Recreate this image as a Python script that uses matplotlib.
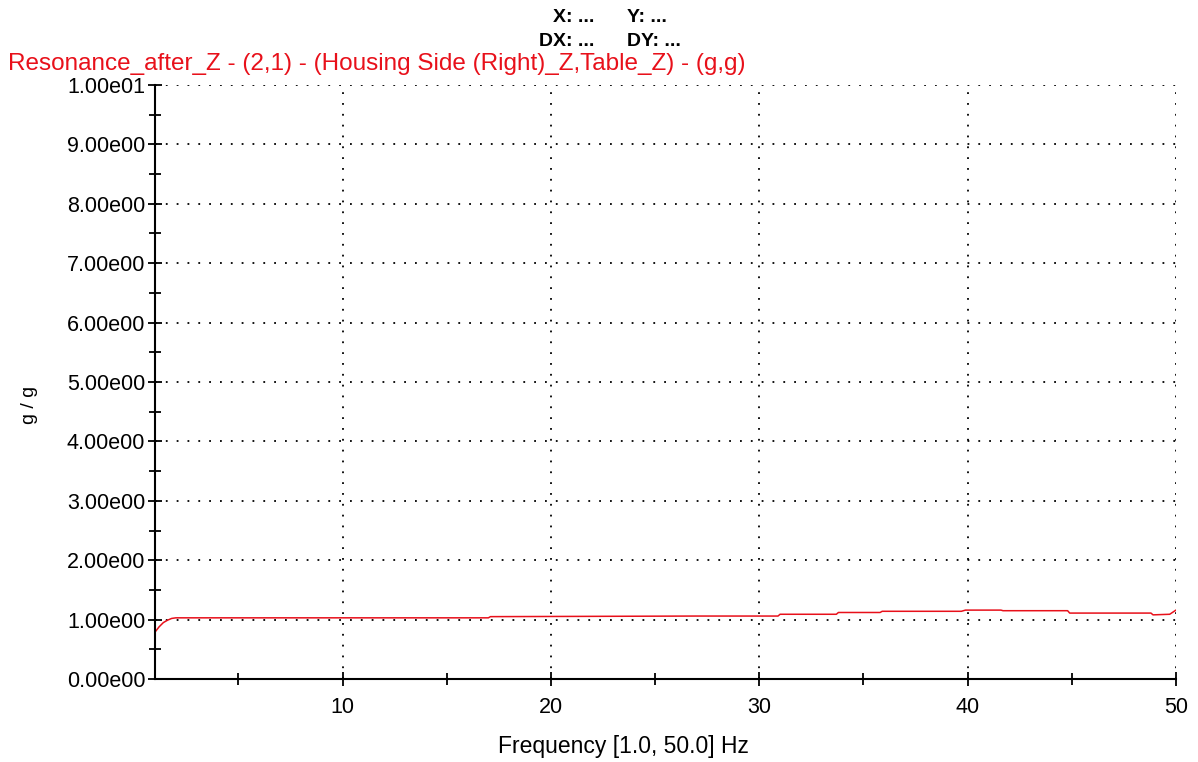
import numpy as np
import matplotlib
matplotlib.use("Agg")
import matplotlib.pyplot as plt
from matplotlib.ticker import MultipleLocator, FuncFormatter

# transmissibility trace (g/g) read over 1..50 Hz
freq = [1.0, 1.2, 1.4, 1.6, 1.8, 2.0, 17.0, 17.1, 27.0, 30.9, 31.0, 33.7, 33.8,
        35.8, 35.9, 39.7, 39.9, 41.6, 41.7, 44.8, 44.9, 48.8, 48.9, 49.7, 50.0]
gain = [0.79, 0.88, 0.95, 0.99, 1.02, 1.03, 1.03, 1.05, 1.06, 1.06, 1.09, 1.09, 1.12,
        1.12, 1.14, 1.14, 1.16, 1.16, 1.15, 1.15, 1.11, 1.11, 1.08, 1.09, 1.16]

title = "Resonance_after_Z - (2,1) - (Housing Side (Right)_Z,Table_Z) - (g,g)"

plt.rcParams['font.family'] = ['Liberation Sans', 'DejaVu Sans']

fig = plt.figure(figsize=(11.98, 7.62), dpi=100)
ax = fig.add_axes([0.1294, 0.1089, 0.8522, 0.7796])

ax.plot(freq, gain, color='#e8101a', lw=1.1)

ax.set_xlim(1, 50)
ax.set_ylim(0, 10)
ax.xaxis.set_major_locator(MultipleLocator(10))
ax.xaxis.set_minor_locator(MultipleLocator(5))
ax.yaxis.set_major_locator(MultipleLocator(1))
ax.yaxis.set_minor_locator(MultipleLocator(0.5))
ax.yaxis.set_major_formatter(FuncFormatter(
    lambda v, p: "%.2fe%02d" % (v / 10, 1) if v >= 10 else "%.2fe00" % v))

ax.grid(True, which='major', color='black', linestyle=(0, (1, 5)), lw=1.3)
for s in ['top', 'right']:
    ax.spines[s].set_visible(False)
for s in ['left', 'bottom']:
    ax.spines[s].set_linewidth(1.5)

ax.tick_params(which='both', direction='inout', width=1.3, labelsize=15.5)
ax.tick_params(which='major', length=10)
ax.tick_params(which='minor', length=8)
ax.tick_params(axis='x', pad=8)
ax.tick_params(axis='y', pad=2)

# axis titles placed in figure pixels
fig.text(623 / 1198, 1 - 747 / 762, "Frequency [1.0, 50.0] Hz", fontsize=16.5,
         ha='center', va='center')
fig.text(30 / 1198, 1 - 405 / 762, "g / g", fontsize=14, rotation=90,
         ha='center', va='center')

fig.text(8 / 1198, 1 - 64 / 762, title, color='#e8101a', fontsize=17.5,
         ha='left', va='center')
fig.text(553 / 1198, 1 - 17 / 762, "X: ...", fontsize=14,
         fontweight='bold', ha='left', va='center')
fig.text(627 / 1198, 1 - 17 / 762, "Y: ...", fontsize=14,
         fontweight='bold', ha='left', va='center')
fig.text(539 / 1198, 1 - 41 / 762, "DX: ...", fontsize=14,
         fontweight='bold', ha='left', va='center')
fig.text(627 / 1198, 1 - 41 / 762, "DY: ...", fontsize=14,
         fontweight='bold', ha='left', va='center')

fig.savefig("out.png", dpi=100)
